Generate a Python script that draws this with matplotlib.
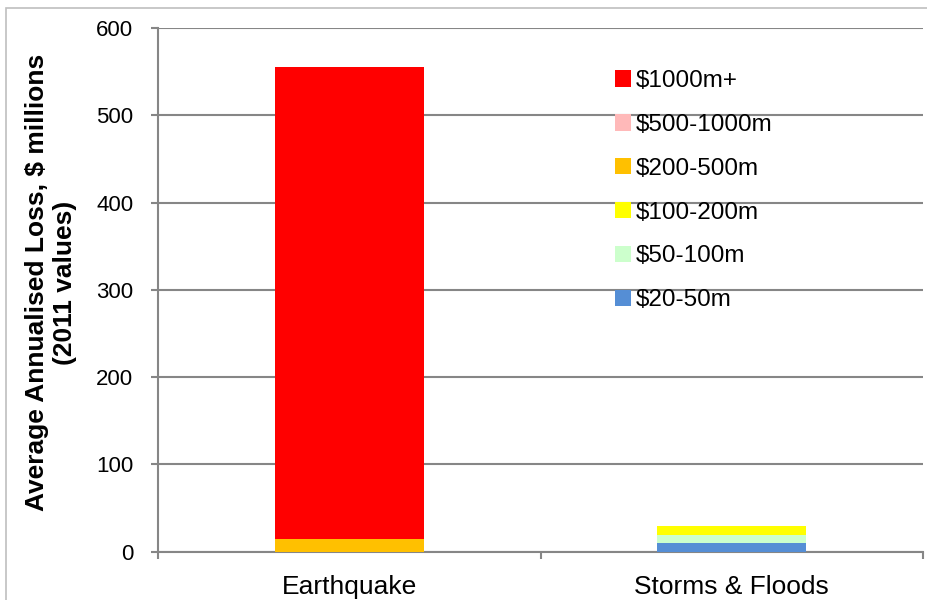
import numpy as np
import matplotlib.pyplot as plt
from matplotlib.patches import Rectangle

plt.rcParams['font.family'] = ['Liberation Sans', 'DejaVu Sans']

categories = ['Earthquake', 'Storms & Floods']
bands = ['$20-50m', '$50-100m', '$100-200m', '$200-500m', '$500-1000m', '$1000m+']
band_colors = ['#558ed5', '#ccffcc', '#ffff00', '#ffc000', '#ffb9b9', '#ff0000']

# annualised loss by band ($ millions), bottom of the stack first
loss_20_50 = [0, 10]
loss_50_100 = [0, 9]
loss_100_200 = [0, 11]
loss_200_500 = [14, 0]
loss_500_1000 = [0, 0]
loss_1000_plus = [542, 0]

series = [loss_20_50, loss_50_100, loss_100_200, loss_200_500, loss_500_1000, loss_1000_plus]

fig = plt.figure(figsize=(9.28, 6), dpi=100)
ax = fig.add_axes([0.1705, 0.0805, 0.824, 0.8725])

x = np.arange(len(categories))
bottom = np.zeros(len(categories))
bars = []
for name, vals, col in zip(bands, series, band_colors):
    b = ax.bar(x, vals, width=0.39, bottom=bottom, color=col, label=name, zorder=3)
    bars.append(b)
    bottom += np.array(vals)

ax.set_xlim(-0.5, 1.5)
ax.set_ylim(0, 600)
ax.set_yticks(range(0, 601, 100))
ax.grid(axis='y', color='#868686', linewidth=1.5, zorder=0)

for side in ['top', 'right']:
    ax.spines[side].set_visible(False)
for side in ['left', 'bottom']:
    ax.spines[side].set_color('#868686')
    ax.spines[side].set_linewidth(1.5)

ax.set_xticks(x)
ax.set_xticklabels(categories, fontsize=19)
ax.tick_params(axis='x', which='major', length=0, pad=17)
ax.set_xticks([-0.5, 0.5, 1.5], minor=True)
ax.tick_params(axis='x', which='minor', length=5, width=1.5, color='#868686', direction='out')
ax.tick_params(axis='y', length=5, width=1.5, color='#868686', direction='out',
               labelsize=16, pad=13)

ax.set_ylabel('Average Annualised Loss, $ millions\n(2011 values)', fontsize=19,
              fontweight='bold', linespacing=1.2)
ax.yaxis.set_label_coords(-0.106, 0.514)

handles = [b[0] for b in bars][::-1]
labels = bands[::-1]
leg = ax.legend(handles, labels, loc='upper left', bbox_to_anchor=(0.569, 0.962),
                frameon=False, fontsize=17.5, labelspacing=0.9,
                handlelength=0.66, handleheight=0.66, handletextpad=0.2)

# thin border around the whole chart area
fig.patches.append(Rectangle((6 / 928, -0.1), 1.2, 1.1 - 8 / 600,
                             transform=fig.transFigure, fill=False,
                             edgecolor='#bfbfbf', linewidth=1.2))

fig.savefig('out.png', dpi=100)
